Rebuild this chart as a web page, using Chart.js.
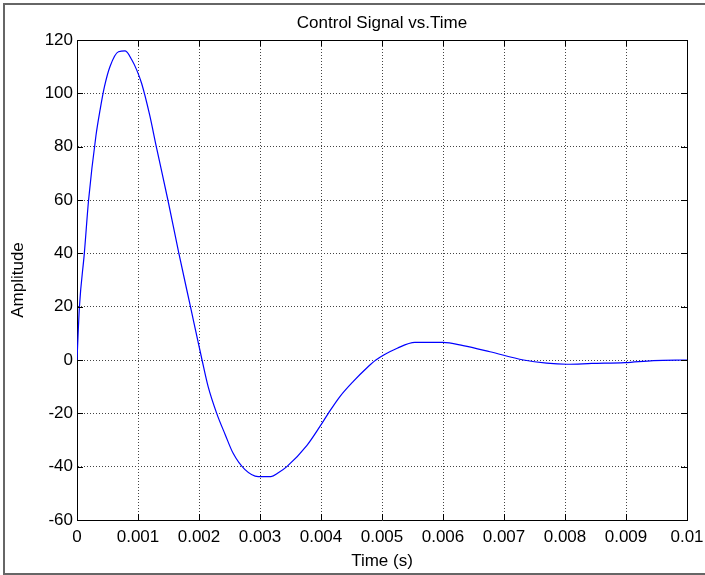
<!DOCTYPE html>
<html>
<head>
<meta charset="utf-8">
<script src="https://cdn.jsdelivr.net/npm/chart.js@4/dist/chart.umd.min.js"></script>
<style>
  body { margin: 0; background: #fff; }
  #wrap { width: 705px; height: 575px; }
</style>
</head>
<body>
<div id="wrap"><canvas id="signalChart" width="705" height="575"></canvas></div>
<script>
// values
const timeValues = [0, 0.00004, 0.00012, 0.00019, 0.00031, 0.00038, 0.00045, 0.00054, 0.00068, 0.00079,
  0.0009, 0.00098, 0.00106, 0.00119, 0.0013, 0.00149, 0.00167, 0.00186, 0.00205,
  0.00215, 0.00229, 0.00243, 0.00256, 0.00275, 0.00297, 0.00318, 0.0033, 0.00344, 0.00377, 0.00398,
  0.00412, 0.00431, 0.00453, 0.00475, 0.0049, 0.00525, 0.00554, 0.006, 0.00633, 0.00677,
  0.00732, 0.0077, 0.00803, 0.00844, 0.00898, 0.00945, 0.01];
const amplitudeValues = [0, 20, 40, 60, 84, 94, 102.5, 110, 115.6, 115.9,
  112.5, 108.7, 103.7, 92, 80, 60, 40, 20, 0,
  -10, -20, -28, -35, -41, -43.7, -43.7, -42.3, -40, -32, -25,
  -20, -13.7, -8, -3, 0, 4.4, 6.6, 6.6, 5.4, 3.1,
  0, -1.2, -1.6, -1.3, -1, -0.2, 0];

const xTickValues = [0, 0.001, 0.002, 0.003, 0.004, 0.005, 0.006, 0.007, 0.008, 0.009, 0.01];
const xTickLabels = ['0', '0.001', '0.002', '0.003', '0.004', '0.005', '0.006', '0.007', '0.008', '0.009', '0.01'];
const yTickValues = [-60, -40, -20, 0, 20, 40, 60, 80, 100, 120];
const yTickLabels = ['-60', '-40', '-20', '0', '20', '40', '60', '80', '100', '120'];

const FONT = { family: '"Liberation Sans", Arial, sans-serif', size: 17 };

// grey frame round the figure
const framePlugin = {
  id: 'frame',
  beforeDraw(chart) {
    const ctx = chart.ctx;
    ctx.save();
    ctx.strokeStyle = '#666';
    ctx.lineWidth = 2;
    ctx.beginPath();
    ctx.moveTo(705, 4);
    ctx.lineTo(4, 4);
    ctx.lineTo(4, 574);
    ctx.lineTo(705, 574);
    ctx.stroke();
    ctx.restore();
  }
};

// matlab style ticks pointing inwards on all four sides
const innerTicks = {
  id: 'innerTicks',
  afterDraw(chart) {
    const { ctx, chartArea: a, scales } = chart;
    const len = 6;
    ctx.save();
    ctx.strokeStyle = '#000';
    ctx.lineWidth = 1;
    ctx.beginPath();
    xTickValues.forEach(v => {
      const px = Math.round(scales.x.getPixelForValue(v)) + 0.5;
      ctx.moveTo(px, a.bottom); ctx.lineTo(px, a.bottom - len);
      ctx.moveTo(px, a.top); ctx.lineTo(px, a.top + len);
    });
    yTickValues.forEach(v => {
      const py = Math.round(scales.y.getPixelForValue(v)) + 0.5;
      ctx.moveTo(a.left, py); ctx.lineTo(a.left + len, py);
      ctx.moveTo(a.right, py); ctx.lineTo(a.right - len, py);
    });
    ctx.stroke();
    ctx.restore();
  }
};

const gridStyle = { color: '#444', lineWidth: 1, drawTicks: false };
const borderStyle = { color: '#000', width: 1, dash: [1, 2] };

new Chart(document.getElementById('signalChart'), {
  type: 'line',
  data: {
    datasets: [{
      data: timeValues.map((t, i) => ({ x: t, y: amplitudeValues[i] })),
      borderColor: '#0000ff',
      borderWidth: 1.2,
      pointRadius: 0,
      cubicInterpolationMode: 'monotone',
      fill: false
    }]
  },
  options: {
    responsive: false,
    animation: false,
    layout: { padding: 0 },
    plugins: { legend: { display: false }, tooltip: { enabled: false } },
    scales: {
      x: {
        type: 'linear',
        position: 'bottom',
        min: 0, max: 0.01,
        afterBuildTicks: s => { s.ticks = xTickValues.map(v => ({ value: v })); },
        afterFit: s => { s.height = 55; s.paddingLeft = 0; s.paddingRight = 0; },
        ticks: { color: '#000', font: FONT, padding: 7, maxRotation: 0, autoSkip: false,
          callback: (v, i) => xTickLabels[i] },
        grid: gridStyle,
        border: borderStyle,
        title: { display: true, text: 'Time (s)', color: '#000', font: FONT, padding: { top: 0, bottom: 3 } }
      },
      x2: {
        type: 'linear',
        position: 'top',
        min: 0, max: 0.01,
        afterFit: s => { s.height = 40; s.paddingLeft = 0; s.paddingRight = 0; },
        ticks: { display: false },
        grid: { drawOnChartArea: false, drawTicks: false },
        border: { color: '#000', width: 1 },
        title: { display: true, text: 'Control Signal vs.Time', color: '#000', font: FONT, padding: { top: 13, bottom: 0 } }
      },
      y: {
        type: 'linear',
        position: 'left',
        min: -60, max: 120,
        afterBuildTicks: s => { s.ticks = yTickValues.map(v => ({ value: v })); },
        afterFit: s => { s.width = 77; s.paddingTop = 0; s.paddingBottom = 0; },
        ticks: { color: '#000', font: FONT, padding: 4, autoSkip: false,
          callback: (v, i) => yTickLabels[i] },
        grid: gridStyle,
        border: borderStyle,
        title: { display: true, text: 'Amplitude', color: '#000', font: FONT, padding: { top: 8, bottom: 0 } }
      },
      y2: {
        type: 'linear',
        position: 'right',
        min: -60, max: 120,
        afterFit: s => { s.width = 18; s.paddingTop = 0; s.paddingBottom = 0; },
        ticks: { display: false },
        grid: { drawOnChartArea: false, drawTicks: false },
        border: { color: '#000', width: 1 }
      }
    }
  },
  plugins: [framePlugin, innerTicks]
});
</script>
</body>
</html>
